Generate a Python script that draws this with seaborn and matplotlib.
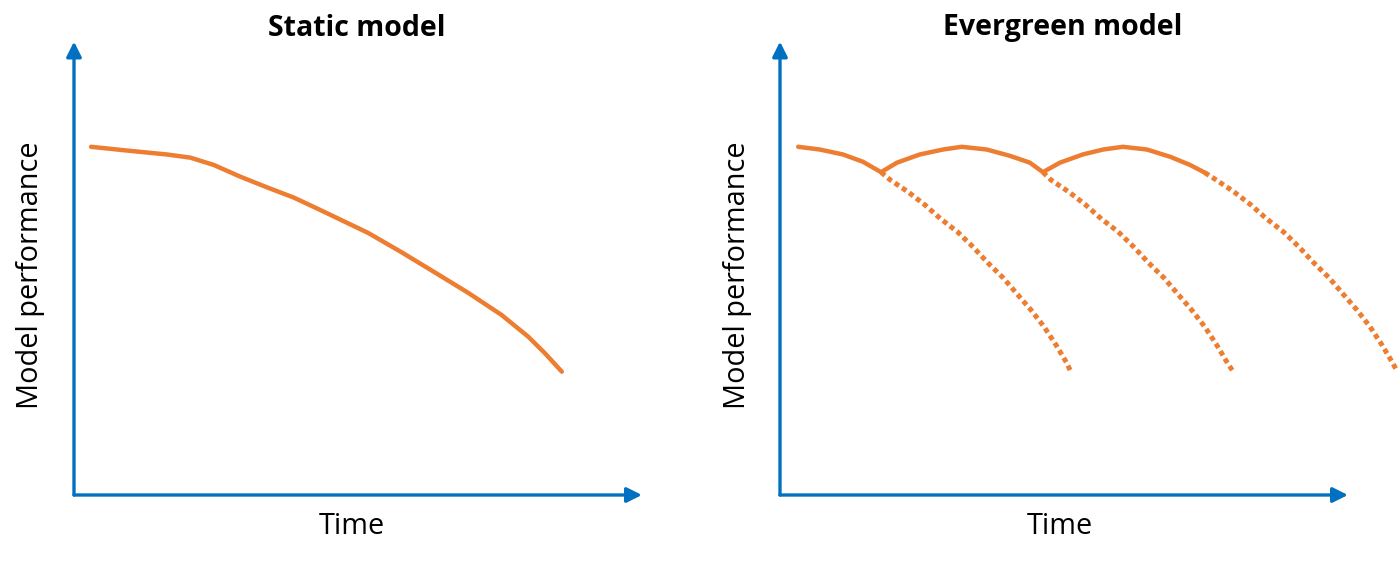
import numpy as np
import pandas as pd
import seaborn as sns
from matplotlib import pyplot as plt

# static model: performance slowly decays over time
static_time = [0.30, 0.99, 1.64, 2.05, 2.46, 2.93, 3.41, 3.87, 4.33, 5.18, 5.76, 6.34, 6.94, 7.53, 8.00, 8.29, 8.59]
static_perf = [7.68, 7.59, 7.51, 7.44, 7.28, 7.02, 6.78, 6.56, 6.29, 5.78, 5.36, 4.92, 4.46, 3.97, 3.49, 3.13, 2.72]

# evergreen model: retrained periodically (solid line)
ever_time = [0.32, 0.70, 1.11, 1.46, 1.78, 2.06, 2.46, 2.87, 3.20, 3.64, 4.05, 4.40, 4.63,
             4.93, 5.33, 5.69, 6.04, 6.46, 6.87, 7.22, 7.48]
ever_perf = [7.68, 7.62, 7.51, 7.35, 7.12, 7.33, 7.51, 7.62, 7.68, 7.62, 7.48, 7.33, 7.12,
             7.33, 7.51, 7.62, 7.68, 7.62, 7.46, 7.28, 7.11]

# what would have happened without each retrain (dotted lines)
decay1_time = [1.78, 1.94, 2.25, 2.55, 2.83, 3.12, 3.40, 3.66, 3.93, 4.17, 4.42, 4.65, 4.86, 5.05, 5.12]
decay1_perf = [7.12, 6.95, 6.69, 6.40, 6.09, 5.81, 5.47, 5.12, 4.79, 4.44, 4.08, 3.71, 3.31, 2.91, 2.72]
decay2_time = [4.63, 4.77, 5.08, 5.38, 5.66, 5.95, 6.23, 6.49, 6.76, 7.00, 7.25, 7.48, 7.69, 7.88, 7.98]
decay2_perf = [7.12, 6.95, 6.69, 6.40, 6.09, 5.81, 5.47, 5.12, 4.79, 4.44, 4.08, 3.71, 3.31, 2.91, 2.72]
decay3_time = [7.48, 7.68, 7.99, 8.29, 8.57, 8.86, 9.14, 9.40, 9.67, 9.91, 10.16, 10.39, 10.60, 10.79, 10.87]
decay3_perf = [7.11, 6.95, 6.69, 6.40, 6.09, 5.81, 5.47, 5.12, 4.79, 4.44, 4.08, 3.71, 3.31, 2.91, 2.72]

titles = ['Static model', 'Evergreen model']
xlabel = 'Time'
ylabel = 'Model performance'

orange = '#ED7D31'
blue = '#0070C0'

sns.set_style('white')
plt.rcParams['font.family'] = ['Open Sans', 'DejaVu Sans']

fig = plt.figure(figsize=(14, 5.62), dpi=100)
W, H = 1400, 562

def make_axes(x0):
    # axes corner sits at pixel (x0, 495)
    ax = fig.add_axes([x0 / W, (H - 495) / H, 619 / W, 467 / H])
    ax.set_xlim(0, 10.9)
    ax.set_ylim(0, 10.3)
    ax.axis('off')
    arrow = dict(arrowstyle='-|>,head_length=0.9,head_width=0.45', color=blue, lw=2.4,
                 shrinkA=0, shrinkB=0)
    ax.annotate('', xy=(10, 0), xytext=(0, 0), arrowprops=arrow)
    ax.annotate('', xy=(0, 10), xytext=(0, 0), arrowprops=arrow)
    return ax

ax1 = make_axes(74)
ax2 = make_axes(780)

df_static = pd.DataFrame({'time': static_time, 'perf': static_perf})
sns.lineplot(data=df_static, x='time', y='perf', ax=ax1, color=orange, lw=3.2,
             estimator=None, sort=False)

df_ever = pd.DataFrame({'time': ever_time, 'perf': ever_perf})
sns.lineplot(data=df_ever, x='time', y='perf', ax=ax2, color=orange, lw=3.2,
             estimator=None, sort=False)
for t, p in [(decay1_time, decay1_perf), (decay2_time, decay2_perf), (decay3_time, decay3_perf)]:
    sns.lineplot(x=t, y=p, ax=ax2, color=orange, lw=3.6, estimator=None, sort=False)
    ln = ax2.lines[-1]
    ln.set_linestyle((0, (1, 0.75)))
    ln.set_dash_capstyle('butt')
    ln.set_clip_on(False)

for ax in (ax1, ax2):
    ax.set_xlabel('')
    ax.set_ylabel('')

for cx, title in zip([357, 1063], titles):
    fig.text(cx / W, 1 - 28 / H, title, ha='center', va='center', fontsize=20.5,
             fontweight='bold', color='black')
for cx in [352, 1060]:
    fig.text(cx / W, 1 - 526 / H, xlabel, ha='center', va='center', fontsize=20.8, color='black')
for cx in [31, 738]:
    fig.text(cx / W, 1 - 275 / H, ylabel, ha='center', va='center', fontsize=20.8,
             rotation=90, color='black')

fig.savefig('out.png', dpi=100)
